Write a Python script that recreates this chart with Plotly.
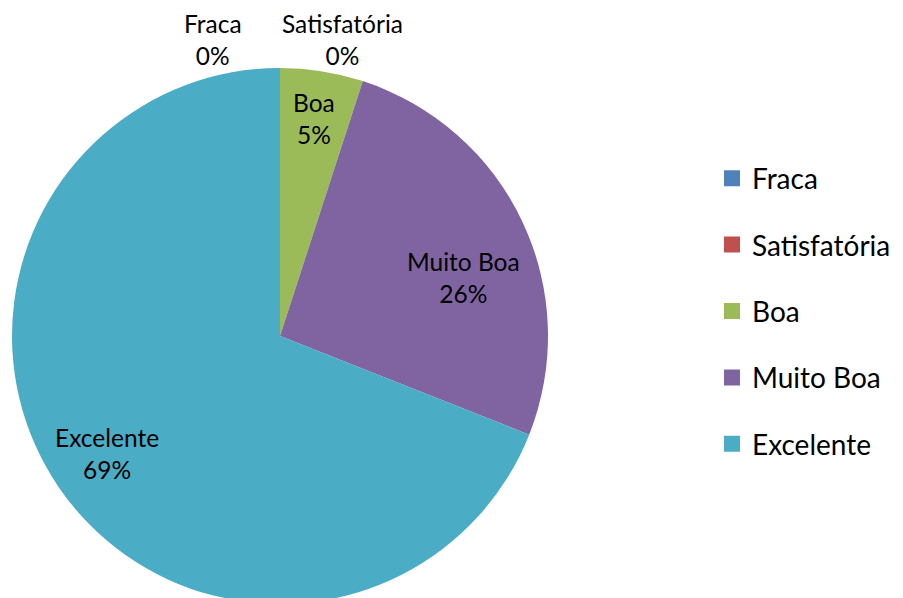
import math
import plotly.graph_objects as go

categories = ["Fraca", "Satisfatória", "Boa", "Muito Boa", "Excelente"]
values = [0, 0, 5, 26, 69]
pct_labels = ["0%", "0%", "5%", "26%", "69%"]
colors = ["#4F81BD", "#C0504D", "#9BBB59", "#8064A2", "#4BACC6"]

# label placement style (fraction along slice angle, fraction of radius)
label_angle_frac = {"Boa": 0.5, "Muito Boa": 0.58, "Excelente": 0.5}
label_radius_frac = {"Boa": 0.82, "Muito Boa": 0.72, "Excelente": 0.78}

W, H = 903, 598
FONT = "Lato"

# pie box in figure pixels
pie_left, pie_right, pie_top, pie_bottom = 4, 540, 60, 596
dom_x = [pie_left / W, pie_right / W]
dom_y = [1 - pie_bottom / H, 1 - pie_top / H]

fig = go.Figure()
fig.add_trace(go.Pie(
    labels=categories, values=values, sort=False, direction="clockwise",
    rotation=0, marker=dict(colors=colors, line=dict(width=0)),
    textinfo="none", hoverinfo="label+percent", showlegend=False,
    domain=dict(x=dom_x, y=dom_y),
))

for i, (c, col) in enumerate(zip(categories, colors)):
    fig.add_trace(go.Scatter(
        x=[None], y=[None], mode="markers", name=c, legendgroup=f"g{i}",
        marker=dict(symbol="square", size=18, color=col),
    ))

cx = (pie_left + pie_right) / 2
cy = (pie_top + pie_bottom) / 2
R = min(pie_right - pie_left, pie_bottom - pie_top) / 2
total = sum(values)
cum = 0
annotations = []
zero_pos = [(205, 32), (334, 32)]
zi = 0
for c, v, p in zip(categories, values, pct_labels):
    if v > 0:
        ang = (cum + v * label_angle_frac[c]) / total * 2 * math.pi
        r = label_radius_frac[c] * R
        px = cx + r * math.sin(ang)
        py = cy - r * math.cos(ang)
    else:
        px, py = zero_pos[zi]
        zi += 1
    annotations.append(dict(
        x=px / W, y=1 - py / H, xref="paper", yref="paper",
        xanchor="center", yanchor="middle",
        text=f"{c}<br>{p}", showarrow=False,
        font=dict(family=FONT, size=24.5, color="#000000"),
    ))
    cum += v

fig.update_layout(
    width=W, height=H,
    margin=dict(l=0, r=0, t=0, b=0),
    paper_bgcolor="white", plot_bgcolor="white",
    xaxis=dict(visible=False), yaxis=dict(visible=False),
    annotations=annotations,
    legend=dict(
        x=704 / W, y=1 - 303 / H, xanchor="left", yanchor="middle",
        font=dict(family=FONT, size=28, color="#000000"),
        tracegroupgap=27, itemsizing="trace",
    ),
    font=dict(family=FONT),
)

fig.write_html("out.html")
